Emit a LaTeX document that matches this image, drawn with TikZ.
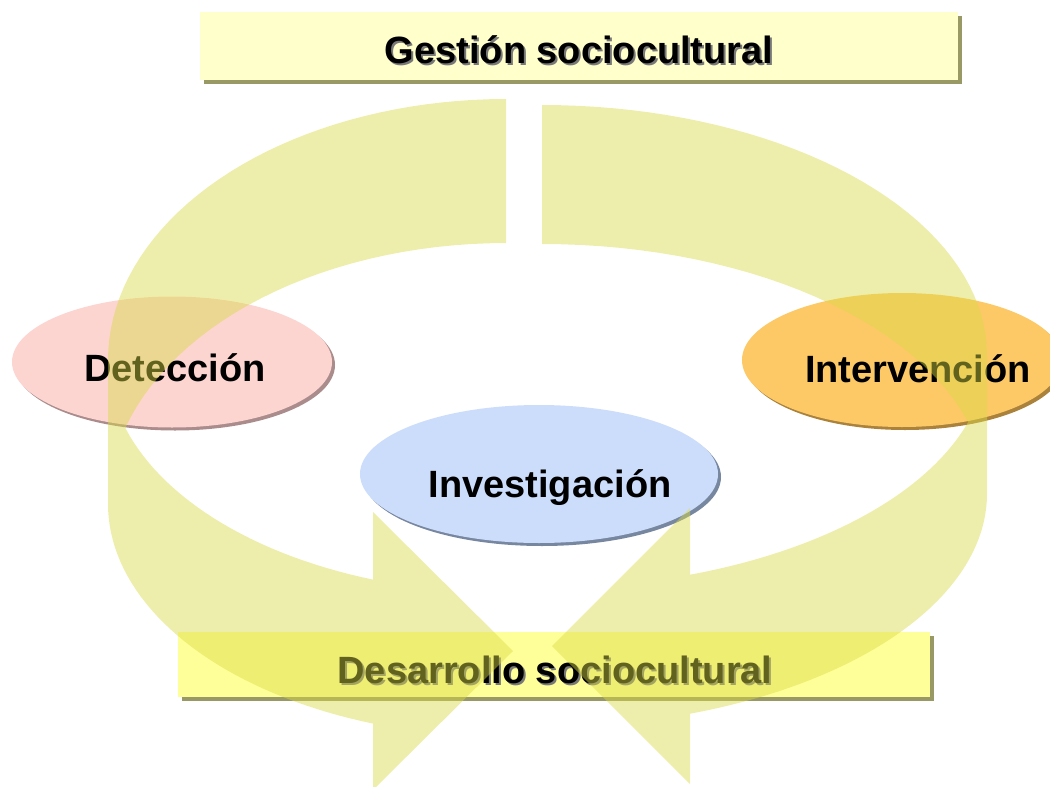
\documentclass[tikz,border=0pt]{standalone}
\usepackage{fontspec}
\setmainfont{Liberation Sans}
\usetikzlibrary{shapes.geometric,shadows}
\definecolor{boxtop}{RGB}{255,255,204}
\definecolor{boxbot}{RGB}{255,255,153}
\definecolor{boxshade}{RGB}{153,153,102}
\definecolor{detfill}{RGB}{252,213,209}
\definecolor{detshade}{RGB}{170,140,140}
\definecolor{intfill}{RGB}{252,201,102}
\definecolor{intshade}{RGB}{170,130,60}
\definecolor{invfill}{RGB}{204,221,251}
\definecolor{invshade}{RGB}{120,135,160}
\definecolor{bandfill}{RGB}{218,218,70}
\definecolor{txtshade}{RGB}{120,120,120}
\newcommand{\shadowed}[1]{\makebox[0pt][l]{\hspace{2pt}\raisebox{-2pt}{\color{txtshade}#1}}#1}

\begin{document}
\begin{tikzpicture}[x=1pt,y=-1pt,
    titlebox/.style={rectangle,draw=none,inner sep=0pt,copy shadow={shadow xshift=4pt,shadow yshift=-4pt,fill=boxshade,draw=none}},
    bubble/.style={ellipse,draw=none,inner sep=0pt,minimum width=320pt,minimum height=131pt},
    lbl/.style={anchor=base,inner sep=0pt,font=\bfseries\fontsize{38}{40}\selectfont},
    band/.style={fill=bandfill,fill opacity=0.45,draw=none}]
  \useasboundingbox (0,0) rectangle (1050,787);
  \node[titlebox,fill=boxtop,minimum width=758pt,minimum height=68pt] (gestion) at (579,46) {};
  \node[titlebox,fill=boxbot,minimum width=752pt,minimum height=65pt] (desarrollo) at (554,664.5) {};
  \node[lbl] (gestion-t) at (579,63) {\shadowed{Gestión sociocultural}};
  \node[lbl] (desarrollo-t) at (555,683) {\shadowed{Desarrollo sociocultural}};
  \node[bubble,fill=detfill,copy shadow={shadow xshift=3pt,shadow yshift=-3pt,fill=detshade,draw=none}] (det) at (172,362) {};
  \node[bubble,fill=intfill,minimum height=134pt,copy shadow={shadow xshift=3pt,shadow yshift=-3pt,fill=intshade,draw=none}] (int) at (902,360) {};
  \node[bubble,fill=invfill,minimum width=358pt,minimum height=138pt,copy shadow={shadow xshift=3pt,shadow yshift=-3pt,fill=invshade,draw=none}] (inv) at (539,474) {};
  \node[lbl] (det-t) at (175,381) {Detección};
  \node[lbl] (int-t) at (918,382) {Intervención};
  \node[lbl] (inv-t) at (550,497) {Investigación};
  \fill[band] (506,99)
    -- plot[domain=270:180,variable=\t,samples=40] ({506+398*cos(\t)},{360+261*sin(\t)})
    -- (108,504)
    -- plot[domain=180:109.5,variable=\t,samples=40] ({506+398*cos(\t)},{504+233*sin(\t)})
    -- (373,790) -- (513,651) -- (373,512)
    -- plot[domain=109.5:163.05,variable=\t,samples=30] ({506+398*cos(\t)},{360+233*sin(\t)})
    -- plot[domain=196.95:270,variable=\t,samples=30] ({506+398*cos(\t)},{504+261*sin(\t)})
    -- cycle;
  \fill[band] (542,105)
    -- plot[domain=270:360,variable=\t,samples=40] ({542+445*cos(\t)},{355+250*sin(\t)})
    -- (987,494)
    -- plot[domain=0:70.57,variable=\t,samples=40] ({542+445*cos(\t)},{494+233*sin(\t)})
    -- (690,784) -- (552,646) -- (690,508)
    -- plot[domain=70.57:16.73,variable=\t,samples=30] ({542+445*cos(\t)},{355+233*sin(\t)})
    -- plot[domain=343.27:270,variable=\t,samples=30] ({542+445*cos(\t)},{494+250*sin(\t)})
    -- cycle;
\end{tikzpicture}
\end{document}
